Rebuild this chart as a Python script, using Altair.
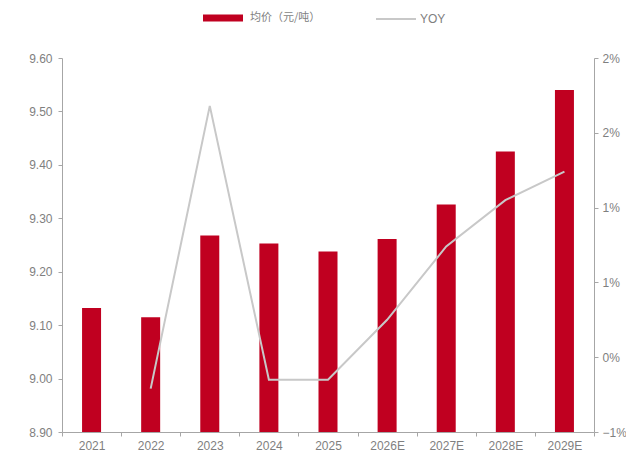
import altair as alt
import pandas as pd

years = ["2021", "2022", "2023", "2024", "2025", "2026E", "2027E", "2028E", "2029E"]
price = [9.132, 9.115, 9.268, 9.253, 9.238, 9.261, 9.326, 9.425, 9.540]
yoy_pct = [None, -0.21, 1.68, -0.15, -0.15, 0.25, 0.74, 1.05, 1.24]
left_ticks = [8.9, 9.0, 9.1, 9.2, 9.3, 9.4, 9.5, 9.6]
right_ticks = [-0.005, 0.0, 0.005, 0.01, 0.015, 0.02]

bar_name = "均价（元/吨）"
line_name = "YOY"

df = pd.DataFrame({
    "year": years,
    "price": price,
    "yoy": [None if v is None else v / 100 for v in yoy_pct],
    "s1": bar_name,
    "s2": line_name,
})

FONT = "Liberation Sans"
GRAY = "#7F7F7F"
AXISC = "#A6A6A6"
RED = "#C00020"
LINEC = "#C8C8C8"

x_enc = alt.X(
    "year:N", sort=years, title=None,
    scale=alt.Scale(paddingInner=0, paddingOuter=0),
    axis=alt.Axis(labelAngle=0, tickBand="extent", labelColor=GRAY, labelFont=FONT,
                  labelFontSize=12, domainColor=AXISC, tickColor=AXISC, tickSize=4,
                  labelPadding=4, grid=False),
)

bars = alt.Chart(df).mark_bar(size=19).encode(
    x=x_enc,
    y=alt.Y("price:Q", title=None,
            scale=alt.Scale(domain=[8.9, 9.6], zero=False, nice=False),
            axis=alt.Axis(values=left_ticks, format=".2f", orient="left", grid=False,
                          labelColor=GRAY, labelFont=FONT, labelFontSize=12,
                          domainColor=AXISC, tickColor=AXISC, tickSize=4, labelPadding=6)),
    y2=alt.datum(8.9),
    fill=alt.Fill("s1:N", scale=alt.Scale(domain=[bar_name], range=[RED]),
                  legend=alt.Legend(title=None, orient="none", legendX=141, legendY=-60,
                                    symbolType="M-1,-0.18H1V0.18H-1Z", symbolSize=1600,
                                    symbolStrokeWidth=0, labelOffset=7, padding=0,
                                    labelColor=GRAY, labelFont="Noto Sans CJK SC",
                                    labelFontSize=11)),
)

line = alt.Chart(df).transform_filter("isValid(datum.yoy)").mark_line(
    strokeWidth=2, interpolate="linear"
).encode(
    x=x_enc,
    y=alt.Y("yoy:Q", title=None,
            scale=alt.Scale(domain=[-0.005, 0.02], zero=False, nice=False),
            axis=alt.Axis(values=right_ticks, format=".0%", orient="right", grid=False,
                          labelColor=GRAY, labelFont=FONT, labelFontSize=12,
                          domainColor=AXISC, tickColor=AXISC, tickSize=4, labelPadding=4)),
    stroke=alt.Stroke("s2:N", scale=alt.Scale(domain=[line_name], range=[LINEC]),
                      legend=alt.Legend(title=None, orient="none", legendX=313, legendY=-60,
                                        symbolType="stroke", symbolSize=1600,
                                        symbolStrokeWidth=2, labelOffset=3, padding=0,
                                        labelColor=GRAY, labelFont=FONT,
                                        labelFontSize=12)),
)

chart = alt.layer(bars, line).resolve_scale(y="independent").properties(
    width=532, height=374,
    padding={"left": 54, "top": 50, "right": 32, "bottom": 19},
    autosize="none",
    view=alt.ViewBackground(strokeOpacity=0, strokeWidth=0),
).configure(background="white").configure_view(strokeOpacity=0, strokeWidth=0)

chart.save("out.html", embed_options={"renderer": "svg", "actions": False})
